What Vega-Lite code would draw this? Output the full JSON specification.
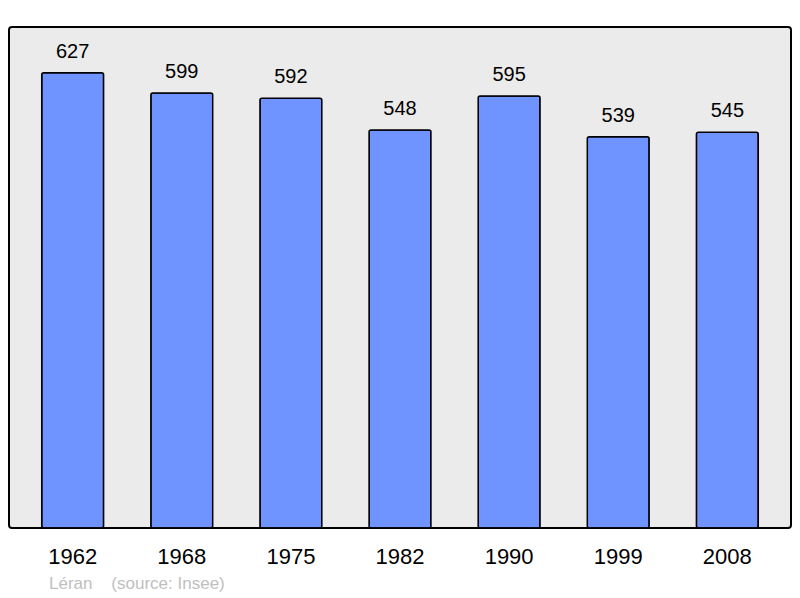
{
  "$schema": "https://vega.github.io/schema/vega-lite/v6.json",
  "width": 782,
  "height": 501,
  "autosize": {"type": "none"},
  "padding": {"left": 9, "top": 27, "right": 9, "bottom": 70},
  "background": "white",
  "title": {
    "text": "Léran\u00a0\u00a0\u00a0\u00a0(source: Insee)",
    "orient": "bottom",
    "anchor": "start",
    "dx": 40,
    "offset": 9,
    "font": "Liberation Sans",
    "fontSize": 17,
    "fontWeight": "normal",
    "color": "#c0c0c0"
  },
  "config": {
    "view": {"fill": "#ebebeb", "stroke": "black", "strokeWidth": 2, "cornerRadius": 3},
    "font": "Liberation Sans"
  },
  "data": {
    "values": [
      {"year": "1962", "pop": 627},
      {"year": "1968", "pop": 599},
      {"year": "1975", "pop": 592},
      {"year": "1982", "pop": 548},
      {"year": "1990", "pop": 595},
      {"year": "1999", "pop": 539},
      {"year": "2008", "pop": 545}
    ]
  },
  "encoding": {
    "x": {
      "field": "year",
      "type": "nominal",
      "sort": null,
      "scale": {"paddingInner": 0.433, "paddingOuter": 0.3},
      "axis": {
        "title": null,
        "domain": false,
        "ticks": false,
        "labelAngle": 0,
        "labelFontSize": 22,
        "labelColor": "black",
        "labelPadding": 18,
        "labelFont": "Liberation Sans"
      }
    },
    "y": {
      "field": "pop",
      "type": "quantitative",
      "scale": {"domain": [0, 690], "nice": false},
      "axis": null
    }
  },
  "layer": [
    {
      "mark": {"type": "bar", "fill": "#7094ff", "stroke": "black", "strokeWidth": 1.5, "cornerRadius": 2}
    },
    {
      "mark": {"type": "text", "baseline": "alphabetic", "dy": -15, "fontSize": 20, "color": "black", "font": "Liberation Sans"},
      "encoding": {"text": {"field": "pop", "type": "quantitative"}}
    }
  ]
}
